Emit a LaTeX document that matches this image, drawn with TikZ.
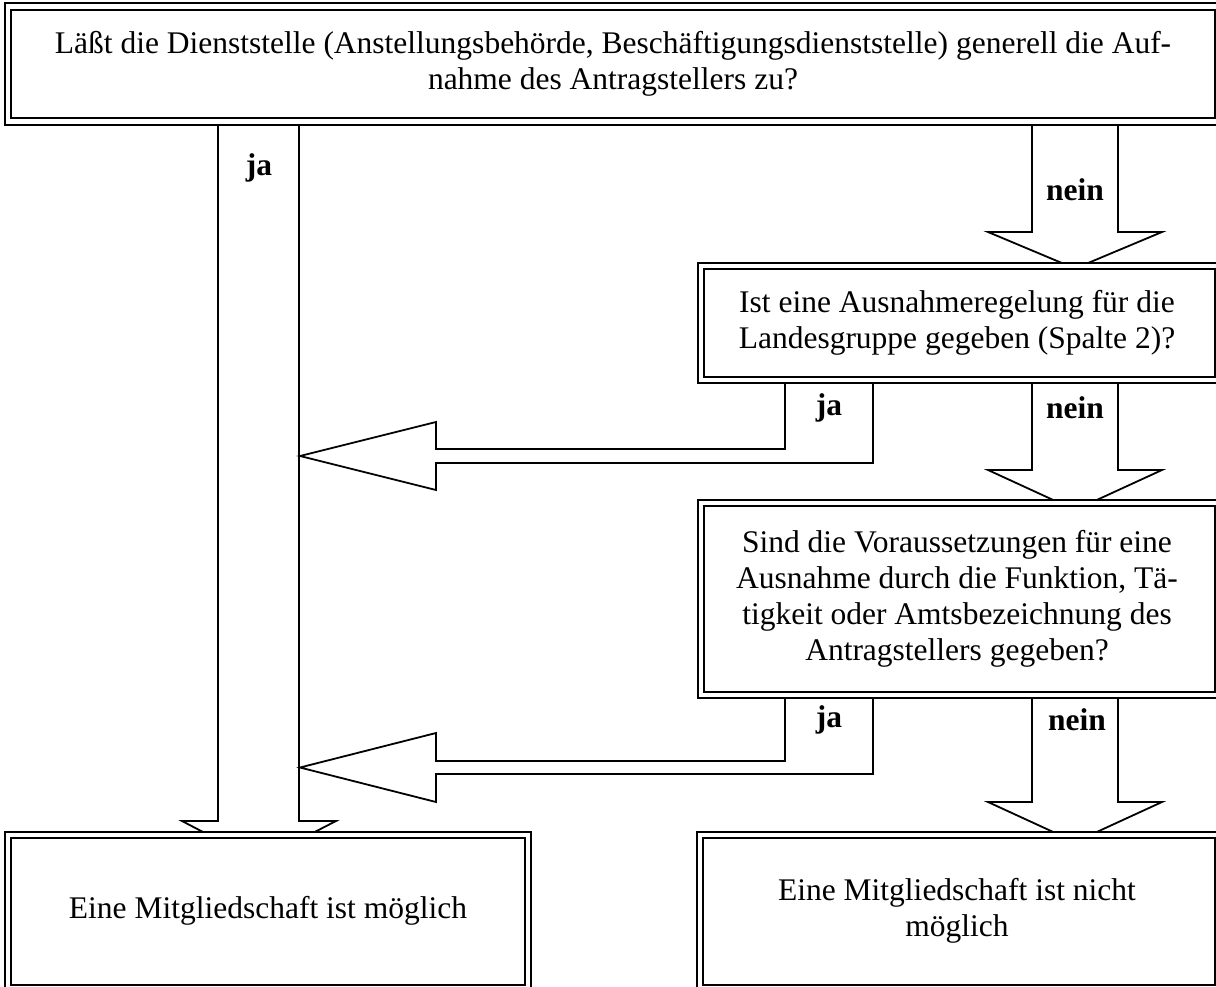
\documentclass[tikz,border=0pt]{standalone}
\usepackage{fontspec}
\setmainfont{Liberation Serif}
\tikzset{
  txt/.style={font=\fontsize{31.5}{36}\selectfont, align=center, inner sep=0pt},
  lbl/.style={font=\fontsize{31.5}{36}\selectfont\bfseries, inner sep=0pt},
  inbox/.style={draw, line width=2.4pt, fill=white},
  outbox/.style={draw, line width=1.2pt, fill=white},
  barrow/.style={draw, line width=1.8pt, fill=white, line join=miter},
}
\begin{document}
\begin{tikzpicture}[x=1pt,y=-1pt]
\useasboundingbox (0,0) rectangle (1216,986);
\clip (0,0) rectangle (1216,986);
% block arrows
\draw[barrow] (218,125) -- (218,821) -- (182,821) -- (258.5,861) -- (336,821) -- (299,821) -- (299,125);
\draw[barrow] (1032,125) -- (1032,232) -- (988,232) -- (1075,268.5) -- (1162,232) -- (1118,232) -- (1118,125);
\draw[barrow] (785,383) -- (785,449) -- (436,449) -- (436,422) -- (300,456) -- (436,490) -- (436,463) -- (873,463) -- (873,383);
\draw[barrow] (1032,383) -- (1032,470) -- (988,470) -- (1075,510) -- (1162,470) -- (1118,470) -- (1118,383);
\draw[barrow] (785,698) -- (785,761) -- (436,761) -- (436,733) -- (300,767.5) -- (436,802) -- (436,774) -- (873,774) -- (873,698);
\draw[barrow] (1032,698) -- (1032,802) -- (988,802) -- (1075,842) -- (1162,802) -- (1118,802) -- (1118,698);
% labels
\node[lbl] (ja1) at (259,168) {ja};
\node[lbl] (nein1) at (1075,190) {nein};
\node[lbl] (ja2) at (829,408) {ja};
\node[lbl] (nein2) at (1075,408) {nein};
\node[lbl] (ja3) at (829,720) {ja};
\node[lbl] (nein3) at (1077,720) {nein};
% boxes
\draw[outbox] (5,3) rectangle (1222,125);
\draw[inbox] (11,10) rectangle (1215,118);
\node[txt] (q1) at (613,64) {Läßt die Dienststelle (Anstellungsbehörde, Beschäftigungsdienststelle) generell die Auf-\\nahme des Antragstellers zu?};
\draw[outbox] (698,263) rectangle (1222,383);
\draw[inbox] (704,269) rectangle (1215,377);
\node[txt] (q2) at (957,323) {Ist eine Ausnahmeregelung für die\\Landesgruppe gegeben (Spalte 2)?};
\draw[outbox] (698,500) rectangle (1222,698);
\draw[inbox] (704,506) rectangle (1215,692);
\node[txt] (q3) at (957,599) {Sind die Voraussetzungen für eine\\Ausnahme durch die Funktion, Tä-\\tigkeit oder Amtsbezeichnung des\\Antragstellers gegeben?};
\draw[outbox] (5,832) rectangle (531,995);
\draw[inbox] (11,838) rectangle (525,985);
\node[txt] (r1) at (268,911) {Eine Mitgliedschaft ist möglich};
\draw[outbox] (697,832) rectangle (1222,995);
\draw[inbox] (703,838) rectangle (1215,985);
\node[txt] (r2) at (957,911) {Eine Mitgliedschaft ist nicht\\möglich};
\end{tikzpicture}
\end{document}
